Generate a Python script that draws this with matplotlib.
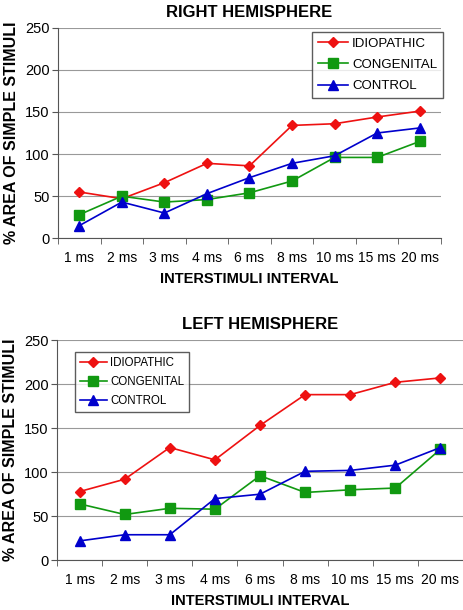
import numpy as np
import matplotlib
matplotlib.use("Agg")
import matplotlib.pyplot as plt

plt.rcParams["font.family"] = ["Liberation Sans", "DejaVu Sans"]

# categories on the x axis
intervals = ["1 ms", "2 ms", "3 ms", "4 ms", "6 ms", "8 ms", "10 ms", "15 ms", "20 ms"]
series_names = ["IDIOPATHIC", "CONGENITAL", "CONTROL"]

# right hemisphere values (% area of simple stimuli)
right_idiopathic = [55, 47, 66, 89, 86, 134, 136, 144, 151]
right_congenital = [28, 50, 43, 46, 54, 68, 96, 96, 115]
right_control = [15, 43, 30, 53, 72, 89, 98, 125, 131]

# left hemisphere values
left_idiopathic = [78, 92, 128, 114, 153, 188, 188, 202, 207]
left_congenital = [64, 52, 59, 58, 96, 77, 80, 82, 126]
left_control = [22, 29, 29, 70, 75, 101, 102, 108, 128]

colors = ["#ee1111", "#119911", "#0000cc"]
markers = ["D", "s", "^"]
msizes = [5, 7, 7]

W, H = 464, 610
fig = plt.figure(figsize=(W / 100, H / 100), dpi=100)


def make_axes(left, right, top, bottom):
    # axes placed by pixel edges
    return fig.add_axes([left / W, 1 - bottom / H, (right - left) / W, (bottom - top) / H])


def draw_panel(ax, data, title, leg_xy, legend_fs, spacing):
    x = np.arange(len(intervals))
    for vals, name, c, m, ms in zip(data, series_names, colors, markers, msizes):
        ax.plot(x, vals, color=c, marker=m, markersize=ms, linewidth=1.2, label=name)
    ax.set_xlim(-0.5, len(intervals) - 0.5)
    ax.set_ylim(0, 250)
    ax.set_yticks(np.arange(0, 251, 50))
    ax.set_xticks(x)
    ax.set_xticklabels(intervals, fontsize=10)
    # tick marks sit between categories
    ax.set_xticks(np.arange(-0.5, len(intervals), 1), minor=True)
    ax.tick_params(axis="x", which="major", length=0, pad=9)
    ax.tick_params(axis="x", which="minor", length=4, color="#555555")
    ax.tick_params(axis="y", length=4, color="#555555", labelsize=10.5, pad=2)
    ax.yaxis.grid(True, color="#999999", linewidth=0.8)
    ax.set_axisbelow(True)
    for s in ["top", "right"]:
        ax.spines[s].set_visible(False)
    for s in ["left", "bottom"]:
        ax.spines[s].set_color("#555555")
    ax.set_title(title, fontsize=12, fontweight="bold", pad=8)
    ax.set_xlabel("INTERSTIMULI INTERVAL", fontsize=10.5, fontweight="bold", labelpad=5)
    ax.set_ylabel("% AREA OF SIMPLE STIMULI", fontsize=11.5, fontweight="bold", labelpad=4)
    leg = ax.legend(loc="upper left", bbox_to_anchor=(leg_xy[0] / W, 1 - leg_xy[1] / H),
                    bbox_transform=fig.transFigure, borderaxespad=0,
                    fontsize=legend_fs, fancybox=False, edgecolor="#333333",
                    handlelength=2.3, handletextpad=0.3, labelspacing=spacing,
                    borderpad=0.45)
    leg.get_frame().set_linewidth(1.0)


ax1 = make_axes(58, 441, 27.7, 238.3)
draw_panel(ax1, [right_idiopathic, right_congenital, right_control],
           "RIGHT HEMISPHERE", (312, 31.7), 9.5, 0.68)

ax2 = make_axes(57, 463, 340, 560.3)
draw_panel(ax2, [left_idiopathic, left_congenital, left_control],
           "LEFT HEMISPHERE", (75, 352), 8.3, 0.6)

fig.savefig("out.png", dpi=100)
